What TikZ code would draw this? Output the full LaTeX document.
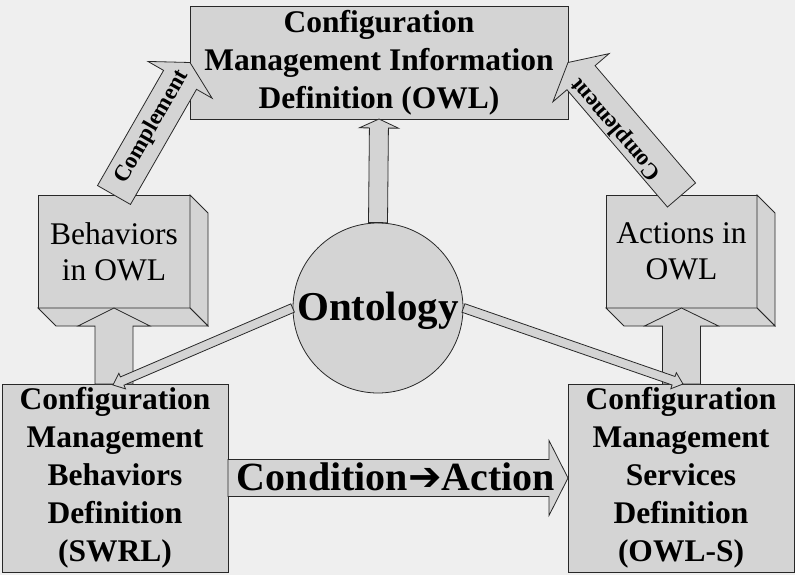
\documentclass[tikz,border=0pt]{standalone}
\usepackage{fontspec}
\setmainfont{Liberation Serif}
\newfontfamily\arrowfont{DejaVu Sans}
\usetikzlibrary{calc}
\definecolor{bgc}{RGB}{239,239,239}
\definecolor{fillc}{RGB}{212,212,212}
\definecolor{linec}{RGB}{40,40,40}
% #2 start, #3 tip, #4 half shaft width, #5 head length, #6 head half width
\newcommand{\blkarrow}[6][]{%
  \coordinate (ab) at ($(#3)!#5!(#2)$);
  \path[arrowbody,#1] ($(#2)!#4!90:(#3)$) -- ($(ab)!#4!90:(#3)$) -- ($(ab)!#6!90:(#3)$) -- (#3)
    -- ($(ab)!#6!-90:(#3)$) -- ($(ab)!#4!-90:(#3)$) -- ($(#2)!#4!-90:(#3)$) -- cycle;
}
\begin{document}
\begin{tikzpicture}[x=1pt,y=-1pt,
  box/.style={draw=linec, fill=fillc, line width=0.8pt, inner sep=0pt, outer sep=0pt, align=center},
  face/.style={draw=linec, fill=fillc, line width=0.8pt, line join=miter},
  arrowbody/.style={draw=linec, fill=fillc, line width=0.8pt, line join=miter},
  bfont/.style={font=\fontsize{31.5}{38}\selectfont\bfseries},
  rfont/.style={font=\fontsize{31.5}{36}\selectfont},
  cfont/.style={font=\fontsize{23}{23}\selectfont\bfseries, inner sep=0pt}]
\fill[bgc] (0,0) rectangle (795,575);
\useasboundingbox (0,0) rectangle (795,575);

% top box
\node[box,bfont,minimum width=378,minimum height=113] (info) at (379,62.5)
  {Configuration\\Management Information\\Definition (OWL)};

% behaviors 3D box
\node[box,rfont,minimum width=152,minimum height=113] (beh) at (114,251.5) {Behaviors\\in OWL};
\path[face] (beh.north east) -- ++(18,18) -- ++(0,113) -- (beh.south east) -- cycle;
\path[face] (beh.south west) -- ++(18,18) -- ++(152,0) -- (beh.south east) -- cycle;

% actions 3D box
\node[box,rfont,minimum width=151,minimum height=113] (act) at (681.5,251.5) {Actions in\\OWL};
\path[face] (act.north east) -- ++(18,18) -- ++(0,113) -- (act.south east) -- cycle;
\path[face] (act.south west) -- ++(18,18) -- ++(151,0) -- (act.south east) -- cycle;

% bottom boxes
\node[box,bfont,minimum width=226,minimum height=188] (swrl) at (115,478)
  {Configuration\\Management\\Behaviors\\Definition\\(SWRL)};
\node[box,bfont,minimum width=226,minimum height=188] (owls) at (681,478)
  {Configuration\\Management\\Services\\Definition\\(OWL-S)};

% ontology circle
\node[circle,draw=linec,fill=fillc,line width=0.8pt,minimum size=170,inner sep=0pt] (onto) at (378,308) {};
\node[font=\fontsize{41}{41}\selectfont\bfseries, anchor=base, inner sep=0pt] (ontotext) at (378,320) {Ontology};

% coordinates for arrow ends
\coordinate (behbase) at (beh.south |- swrl.north);
\coordinate (actbase) at (act.south |- owls.north);
\coordinate (ontotip) at (onto.north -| info.south);
\coordinate (lt) at ($(swrl.north)+(-2,1)$);
\coordinate (rt) at ($(owls.north)+(2,0)$);

% block arrows
\blkarrow{behbase}{beh.south}{19pt}{18pt}{36pt}
\blkarrow{actbase}{act.south}{19pt}{18pt}{37pt}
\blkarrow{onto.north}{ontotip |- info.south}{9.5pt}{9pt}{19.5pt}
\blkarrow{onto.west}{lt}{4.5pt}{10pt}{8.5pt}
\blkarrow{onto.east}{rt}{4.5pt}{10pt}{8.5pt}
\blkarrow{swrl.east}{owls.west}{18.5pt}{19pt}{37.5pt}
\blkarrow{beh.north}{info.west}{19pt}{20pt}{37pt}
\blkarrow{act.north}{info.east}{18.5pt}{20pt}{37pt}

% arrow texts
\node[cfont, rotate=60.15] (cl) at (152,127) {Complement};
\node[cfont, rotate=130.6] (cr) at (616,129) {Complement};
\node[font=\fontsize{40}{40}\selectfont\bfseries, anchor=base, inner sep=0pt] (cond) at (396,490)
  {Condition{\arrowfont ➔}Action};
\end{tikzpicture}
\end{document}
